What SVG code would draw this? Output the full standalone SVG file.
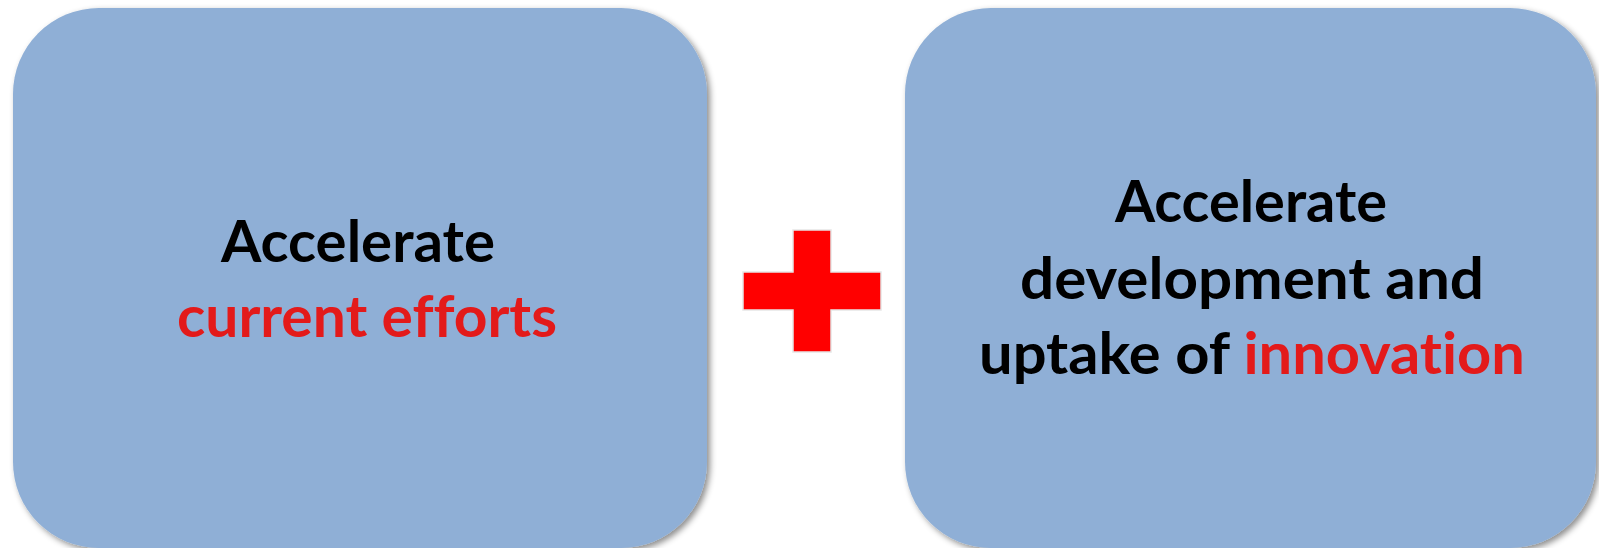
<svg xmlns="http://www.w3.org/2000/svg" width="1599" height="548" viewBox="0 0 1599 548">
<defs>
<filter id="sh" x="-5%" y="-5%" width="112%" height="112%">
<feDropShadow dx="3" dy="3" stdDeviation="3" flood-color="#000" flood-opacity="0.45"/>
</filter>
</defs>
<style>
.box{fill:#8FAFD6;filter:url(#sh)}
.t{font-family:Lato,"Open Sans",sans-serif;font-weight:bold;font-size:57px;fill:#000;text-anchor:middle;font-variant-ligatures:none}
.r{fill:#E31A1A}
</style>
<g id="node-left">
<rect class="box" x="13" y="8" width="694" height="540" rx="86" ry="86"/>
<text class="t" x="358" y="262" textLength="274" lengthAdjust="spacingAndGlyphs">Accelerate</text>
<text class="t r" x="367" y="337" textLength="380" lengthAdjust="spacingAndGlyphs">current efforts</text>
</g>
<g id="node-plus">
<path d="M793 230H831V272H881V310H831V352H793V310H743V272H793Z" fill="#FF0000" stroke="#E6E6E6" stroke-width="1.5"/>
</g>
<g id="node-right">
<rect class="box" x="905" y="8" width="691" height="540" rx="86" ry="86"/>
<text class="t" x="1251" y="222" textLength="272" lengthAdjust="spacingAndGlyphs">Accelerate</text>
<text class="t" x="1252" y="299" textLength="464" lengthAdjust="spacingAndGlyphs">development and</text>
<text class="t" x="1252" y="374" textLength="546" lengthAdjust="spacingAndGlyphs">uptake of <tspan class="r">innovation</tspan></text>
</g>
<g id="connectors"></g>
</svg>
